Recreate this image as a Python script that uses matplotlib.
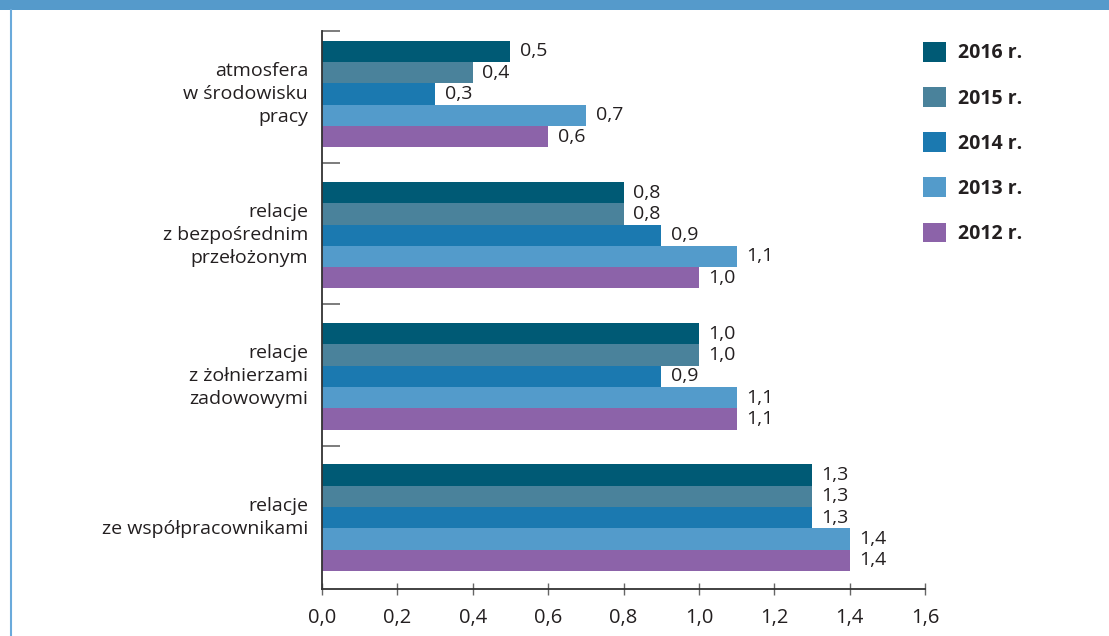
import matplotlib
matplotlib.use("Agg")
import matplotlib.pyplot as plt
import matplotlib.patches as mpatches
from matplotlib.lines import Line2D
import numpy as np

plt.rcParams["font.family"] = ["Open Sans", "DejaVu Sans"]

categories = [
    "atmosfera\nw środowisku\npracy",
    "relacje\nz bezpośrednim\nprzełożonym",
    "relacje\nz żołnierzami\nzadowowymi",
    "relacje\nze współpracownikami",
]
years = ["2016 r.", "2015 r.", "2014 r.", "2013 r.", "2012 r."]
v2016 = [0.5, 0.8, 1.0, 1.3]
v2015 = [0.4, 0.8, 1.0, 1.3]
v2014 = [0.3, 0.9, 0.9, 1.3]
v2013 = [0.7, 1.1, 1.1, 1.4]
v2012 = [0.6, 1.0, 1.1, 1.4]
x_ticks = [0.0, 0.2, 0.4, 0.6, 0.8, 1.0, 1.2, 1.4, 1.6]

series = [v2016, v2015, v2014, v2013, v2012]
colours = ["#005a75", "#4a829b", "#1b79b0", "#539bcb", "#8c63a9"]
textColour = "#231f20"
axisColour = "#333333"
tickColour = "#666666"

W, H = 1109, 636
fig = plt.figure(figsize=(W / 100, H / 100), dpi=100)

# blue header strip and left frame line
fig.patches.append(mpatches.Rectangle((0, 1 - 10 / H), 1, 10 / H, transform=fig.transFigure,
                                      facecolor="#559acb", edgecolor="none"))
fig.lines.append(Line2D([10.5 / W, 10.5 / W], [0, 1 - 10 / H], transform=fig.transFigure,
                        color="#6aaadb", linewidth=1.5))

ax = fig.add_axes([322 / W, (H - 589) / H, (925 - 322) / W, (589 - 31) / H])

barHeight = 0.151
y = np.arange(len(categories))
for k, (vals, col, yr) in enumerate(zip(series, colours, years)):
    pos = y + (k - 2) * barHeight
    ax.barh(pos, vals, height=barHeight, color=col, edgecolor="none", label=yr)
    for p, v in zip(pos, vals):
        ax.annotate(f"{v:.1f}".replace(".", ","), (v, p), xytext=(7, 0), textcoords="offset points",
                    ha="left", va="center", fontsize=14, color=textColour)

for yc, name in zip(y, categories):
    ax.annotate(name, (0, yc), xytext=(-10, 0), textcoords="offset points",
                ha="right", va="center", fontsize=14, color=textColour, linespacing=1.35)

ax.set_xlim(0, 1.6)
ax.set_ylim(3.506, -0.446)
ax.set_xticks(x_ticks, labels=[f"{t:.1f}".replace(".", ",") for t in x_ticks])
ax.tick_params(axis="x", direction="inout", length=8, width=1, color=tickColour,
               labelsize=14.5, labelcolor=textColour, pad=10)

# short separator marks between the categories
ax.set_yticks([-0.446, 0.49, 1.49, 2.49], labels=[])
ax.tick_params(axis="y", direction="in", length=13, width=1.2, color=tickColour)

for s in ["top", "right"]:
    ax.spines[s].set_visible(False)
for s in ["left", "bottom"]:
    ax.spines[s].set_color(axisColour)
    ax.spines[s].set_linewidth(1.3)

leg = ax.legend(loc="upper left", bbox_to_anchor=(923 / W, 1 - 42 / H), bbox_transform=fig.transFigure,
                frameon=False, borderpad=0, borderaxespad=0, handlelength=1.18, handleheight=1.18,
                handletextpad=0.6, labelspacing=1.22,
                prop={"weight": "bold", "size": 14})
for t in leg.get_texts():
    t.set_color(textColour)

fig.savefig("out.png", dpi=100)
